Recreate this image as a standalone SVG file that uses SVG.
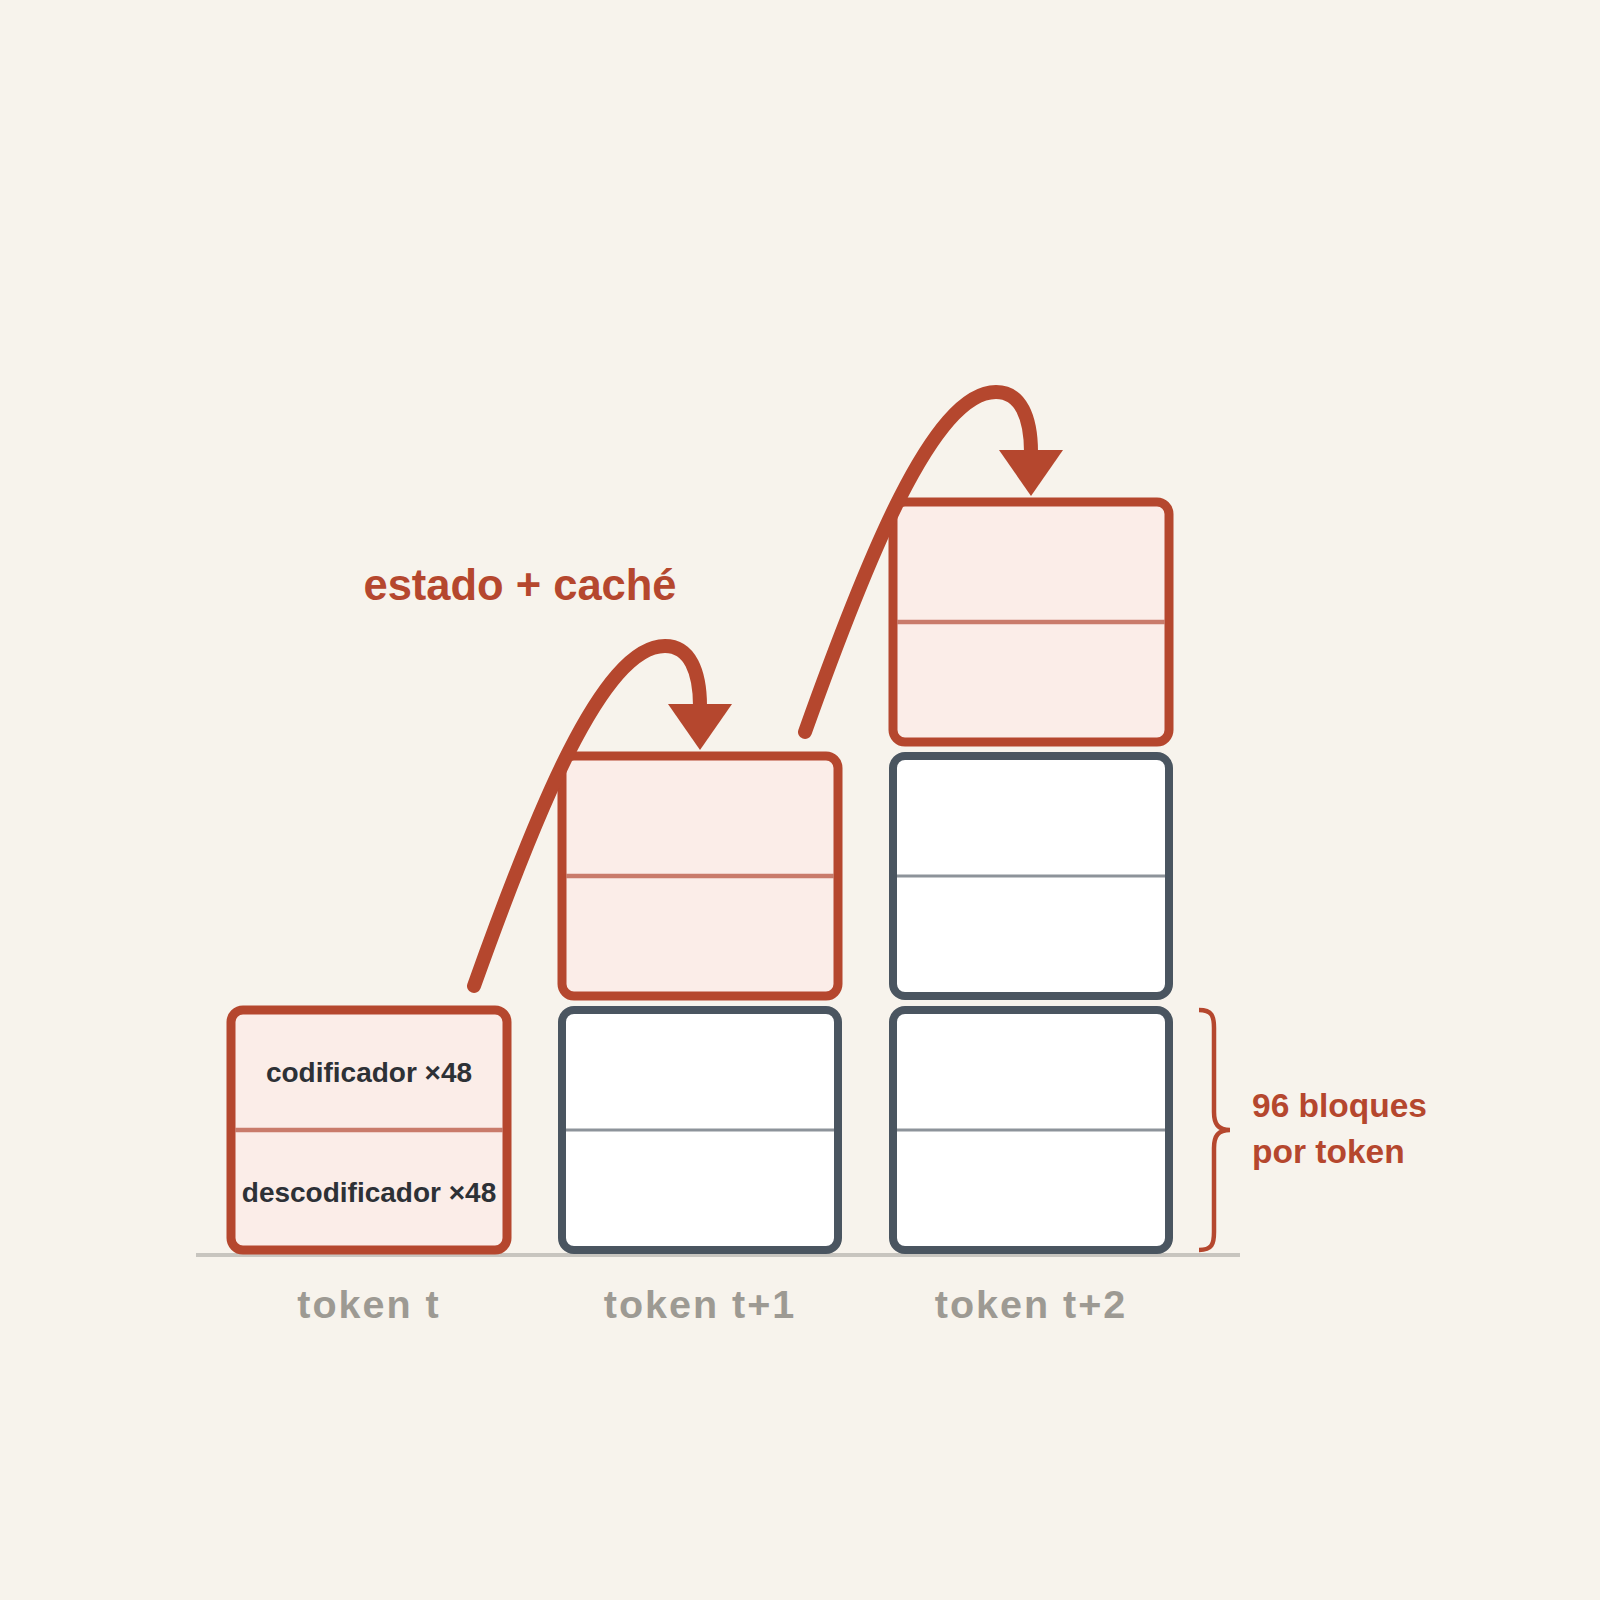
<svg xmlns="http://www.w3.org/2000/svg" width="1600" height="1600" viewBox="0 0 1600 1600">
  <defs>
    <style>
      .blk-hot { fill: #fbede8; stroke: #b5472e; stroke-width: 9; }
      .blk-cold { fill: #ffffff; stroke: #4a5560; stroke-width: 8; }
      .div-hot { stroke: #c97b6b; stroke-width: 4.5; }
      .div-cold { stroke: #8d939a; stroke-width: 3; }
      .lbl-tok { font-family: "Liberation Sans", Arial, sans-serif; font-weight: bold; font-size: 39.5px; fill: #9d9a93; letter-spacing: 2px; text-anchor: middle; }
      .lbl-in { font-family: "Liberation Sans", Arial, sans-serif; font-weight: bold; font-size: 28px; fill: #2d3136; text-anchor: middle; }
      .lbl-red { font-family: "Liberation Sans", Arial, sans-serif; font-weight: bold; fill: #b5472e; }
      .arc { fill: none; stroke: #b5472e; stroke-width: 14; stroke-linecap: round; }
    </style>
    <marker id="head" viewBox="0 0 46 64" refX="2" refY="32" markerWidth="46" markerHeight="64" markerUnits="userSpaceOnUse" orient="auto">
      <path d="M0,0 L46,32 L0,64 Z" fill="#b5472e"/>
    </marker>
  </defs>
  <rect x="0" y="0" width="1600" height="1600" fill="#f7f3ec"/>

  <line x1="196" y1="1255" x2="1240" y2="1255" stroke="#c8c5bf" stroke-width="4"/>

  <g id="node-t">
    <rect class="blk-hot" x="231" y="1010" width="276" height="240" rx="12"/>
    <line class="div-hot" x1="235" y1="1130" x2="503" y2="1130"/>
    <text class="lbl-in" x="369" y="1082">codificador ×48</text>
    <text class="lbl-in" x="369" y="1202">descodificador ×48</text>
  </g>

  <g id="node-t1-base">
    <rect class="blk-cold" x="562" y="1010" width="276" height="240" rx="12"/>
    <line class="div-cold" x1="566" y1="1130" x2="834" y2="1130"/>
  </g>
  <g id="node-t1-top">
    <rect class="blk-hot" x="562" y="756" width="276" height="240" rx="12"/>
    <line class="div-hot" x1="566" y1="876" x2="834" y2="876"/>
  </g>

  <g id="node-t2-base">
    <rect class="blk-cold" x="893" y="1010" width="276" height="240" rx="12"/>
    <line class="div-cold" x1="897" y1="1130" x2="1165" y2="1130"/>
  </g>
  <g id="node-t2-mid">
    <rect class="blk-cold" x="893" y="756" width="276" height="240" rx="12"/>
    <line class="div-cold" x1="897" y1="876" x2="1165" y2="876"/>
  </g>
  <g id="node-t2-top">
    <rect class="blk-hot" x="893" y="502" width="276" height="240" rx="12"/>
    <line class="div-hot" x1="897" y1="622" x2="1165" y2="622"/>
  </g>

  <g id="connectors">
    <path class="arc" marker-end="url(#head)" d="M474,986 C535,815 602,646 665,646 C690,646 700,672 700,706"/>
    <path class="arc" marker-end="url(#head)" d="M805,732 C866,561 933,392 996,392 C1021,392 1031,418 1031,452"/>
  </g>

  <g id="brace">
    <path d="M1199,1010 C1212,1010 1214,1016 1214,1028 L1214,1112 C1214,1124 1218,1130 1230,1130 C1218,1130 1214,1136 1214,1148 L1214,1232 C1214,1244 1212,1250 1199,1250" fill="none" stroke="#b5472e" stroke-width="4.5"/>
  </g>

  <text class="lbl-red" x="520" y="600" font-size="43.5" text-anchor="middle">estado + caché</text>
  <text class="lbl-red" x="1252" y="1117" font-size="33.5">96 bloques</text>
  <text class="lbl-red" x="1252" y="1163" font-size="33.5">por token</text>

  <text class="lbl-tok" x="369" y="1318">token t</text>
  <text class="lbl-tok" x="700" y="1318">token t+1</text>
  <text class="lbl-tok" x="1031" y="1318">token t+2</text>
</svg>
